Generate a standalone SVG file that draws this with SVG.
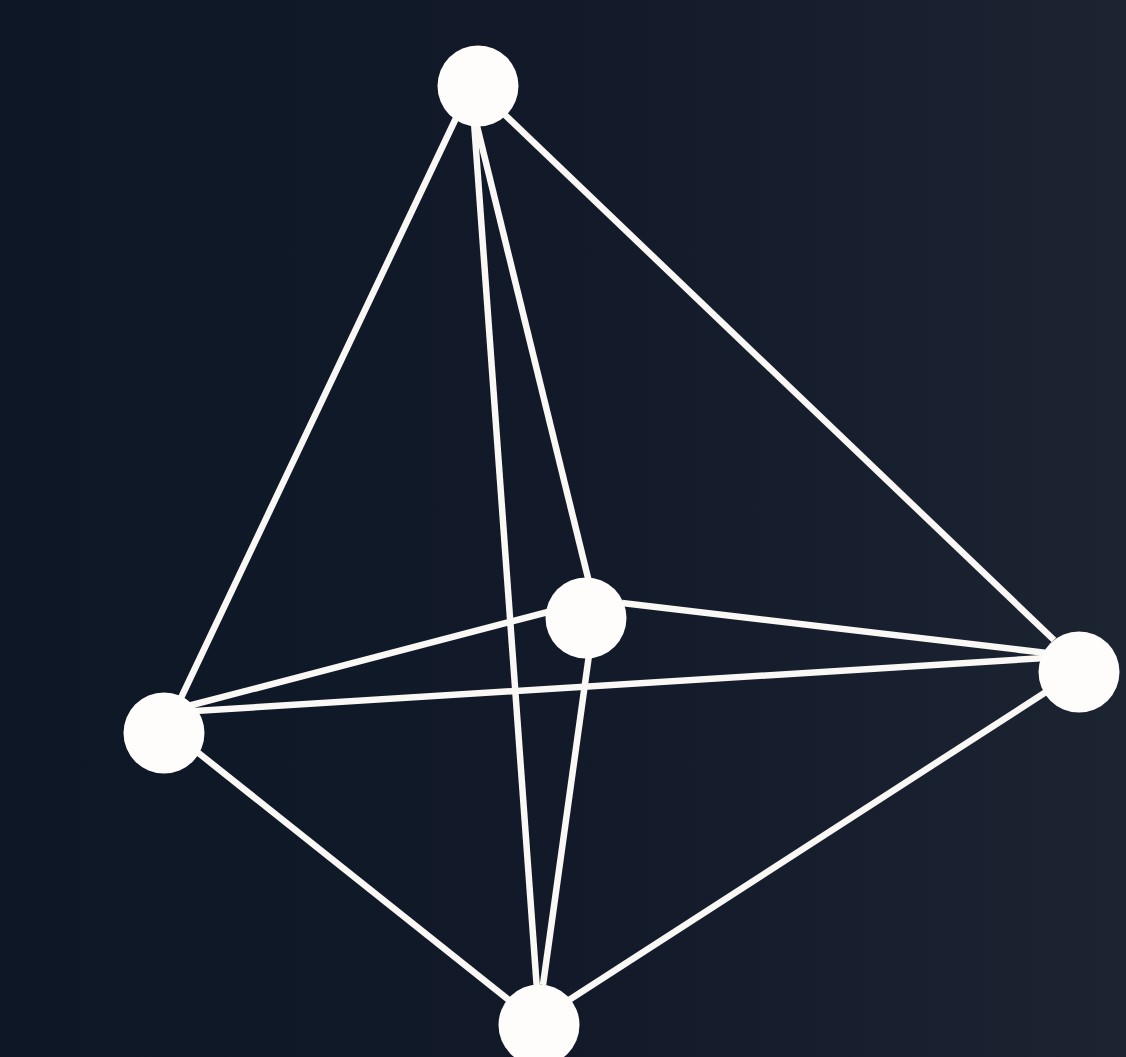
<svg xmlns="http://www.w3.org/2000/svg" width="1126" height="1057" viewBox="0 0 1126 1057">
<defs>
<linearGradient id="bg" x1="0" y1="0" x2="1" y2="0"><stop offset="0" stop-color="#0d1725"/><stop offset="0.5" stop-color="#121a2a"/><stop offset="1" stop-color="#1c2331"/></linearGradient>
</defs>
<style>
.e{stroke:#f9f8f5;stroke-width:6.5;fill:none}
.n{fill:#fefdfc}
</style>
<rect width="1126" height="1057" fill="url(#bg)"/>
<g id="connectors">
<line class="e" x1="457" y1="116" x2="180" y2="700"/>
<line class="e" x1="474" y1="122" x2="537" y2="990"/>
<line class="e" x1="476" y1="122" x2="589" y2="582"/>
<line class="e" x1="505" y1="115" x2="1054" y2="640"/>
<line class="e" x1="188" y1="706" x2="548" y2="612"/>
<line class="e" x1="195" y1="711" x2="1045" y2="658"/>
<line class="e" x1="196" y1="751" x2="510" y2="1001"/>
<line class="e" x1="622" y1="603" x2="1047" y2="653"/>
<line class="e" x1="589" y1="655" x2="543" y2="985"/>
<line class="e" x1="1049" y1="690" x2="569" y2="1000"/>
</g>
<g id="node-top"><circle class="n" cx="478" cy="86" r="40.5"/></g>
<g id="node-center"><circle class="n" cx="586" cy="618" r="40.5"/></g>
<g id="node-right"><circle class="n" cx="1079" cy="672" r="40.5"/></g>
<g id="node-left"><circle class="n" cx="164" cy="733" r="40.5"/></g>
<g id="node-bottom"><circle class="n" cx="539" cy="1025" r="40.5"/></g>
</svg>
